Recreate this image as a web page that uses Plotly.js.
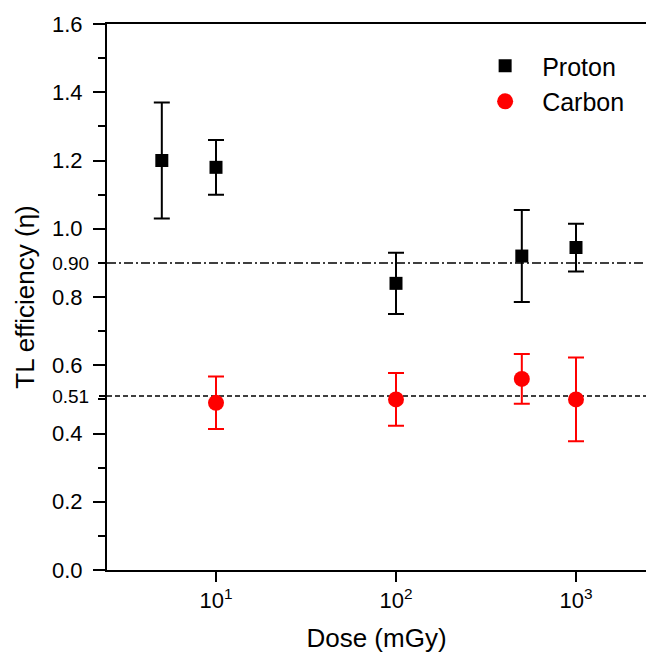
<!DOCTYPE html>
<html>
<head>
<meta charset="utf-8">
<script src="https://cdn.plot.ly/plotly-3.0.1.min.js"></script>
<style>html,body{margin:0;padding:0;background:#fff;}#chart{width:646px;height:657px;}</style>
</head>
<body>
<div id="chart"></div>
<script>
// ---- data ----
const protonDose = [5, 10, 100, 500, 1000];
const protonEff  = [1.20, 1.18, 0.84, 0.92, 0.945];
const protonErr  = [0.17, 0.08, 0.09, 0.135, 0.07];

const carbonDose = [10, 100, 500, 1000];
const carbonEff  = [0.49, 0.50, 0.56, 0.50];
const carbonErr  = [0.077, 0.077, 0.073, 0.123];

const refValues = [0.90, 0.51];
const refLabels = ['0.90', '0.51'];

const yTickVals = [0, 0.2, 0.4, 0.6, 0.8, 1.0, 1.2, 1.4, 1.6];
const yTickText = ['0.0', '0.2', '0.4', '0.6', '0.8', '1.0', '1.2', '1.4', '1.6'];
const xTickVals = [10, 100, 1000];
const xTickText = ['10<sup>1</sup>', '10<sup>2</sup>', '10<sup>3</sup>'];

const FONT = 'Arial, "Liberation Sans", sans-serif';

const traces = [
  {
    x: protonDose, y: protonEff, name: 'Proton', type: 'scatter', mode: 'markers',
    marker: {symbol: 'square', size: 13, color: '#000000'},
    error_y: {type: 'data', array: protonErr, visible: true, color: '#000000', thickness: 2, width: 8}
  },
  {
    x: carbonDose, y: carbonEff, name: 'Carbon', type: 'scatter', mode: 'markers',
    marker: {symbol: 'circle', size: 16, color: '#ff0000'},
    error_y: {type: 'data', array: carbonErr, visible: true, color: '#ff0000', thickness: 2, width: 8}
  },
  // invisible trace carrying the secondary y axis (reference value labels)
  {
    x: [protonDose[0]], y: [refValues[0]], yaxis: 'y2', type: 'scatter', mode: 'markers',
    marker: {opacity: 0}, showlegend: false, hoverinfo: 'skip'
  }
];

const layout = {
  width: 646, height: 657,
  margin: {l: 107, r: 0, t: 24, b: 87},
  paper_bgcolor: '#ffffff', plot_bgcolor: '#ffffff',
  font: {family: FONT, color: '#000000', size: 22},
  showlegend: true,
  legend: {
    x: 0.67, y: 0.965, xanchor: 'left', yanchor: 'top',
    font: {family: FONT, size: 25, color: '#000000'},
    bgcolor: 'rgba(0,0,0,0)', itemwidth: 64, tracegroupgap: 0
  },
  xaxis: {
    type: 'log',
    range: [1 - 109 / 180, 1 + 430 / 180],
    tickvals: xTickVals, ticktext: xTickText,
    ticks: 'outside', ticklen: 10, tickwidth: 2, tickcolor: '#000',
    showline: true, linewidth: 2, linecolor: '#000', mirror: true,
    showgrid: false, zeroline: false,
    tickfont: {family: FONT, size: 22, color: '#000'},
    title: {text: 'Dose (mGy)', font: {family: FONT, size: 26, color: '#000'}, standoff: 16}
  },
  yaxis: {
    range: [0, 1.6],
    tickvals: yTickVals, ticktext: yTickText,
    ticks: 'outside', ticklen: 12, tickwidth: 2, tickcolor: '#000',
    ticklabelstandoff: 6,
    minor: {dtick: 0.1, tick0: 0, ticks: 'outside', ticklen: 7, tickwidth: 2, tickcolor: '#000', showgrid: false},
    showline: true, linewidth: 2, linecolor: '#000', mirror: false,
    showgrid: false, zeroline: false,
    tickfont: {family: FONT, size: 22, color: '#000'},
    title: {text: 'TL efficiency (η)', font: {family: FONT, size: 26, color: '#000'}, standoff: 10}
  },
  yaxis2: {
    overlaying: 'y', side: 'left', anchor: 'x',
    range: [0, 1.6],
    tickvals: refValues, ticktext: refLabels,
    ticks: 'outside', ticklen: 7, tickwidth: 2, tickcolor: '#000',
    ticklabelstandoff: 6,
    showline: false, showgrid: false, zeroline: false,
    tickfont: {family: FONT, size: 19, color: '#000'}
  },
  shapes: [
    {type: 'line', xref: 'paper', x0: 0, x1: 1, yref: 'y', y0: refValues[0], y1: refValues[0],
     line: {color: '#000', width: 1.5, dash: '9px,3px,2px,3px'}, layer: 'below'},
    {type: 'line', xref: 'paper', x0: 0, x1: 1, yref: 'y', y0: refValues[1], y1: refValues[1],
     line: {color: '#000', width: 1.5, dash: '5px,3px'}, layer: 'below'}
  ]
};

Plotly.newPlot('chart', traces, layout, {staticPlot: true, displayModeBar: false});
</script>
</body>
</html>
